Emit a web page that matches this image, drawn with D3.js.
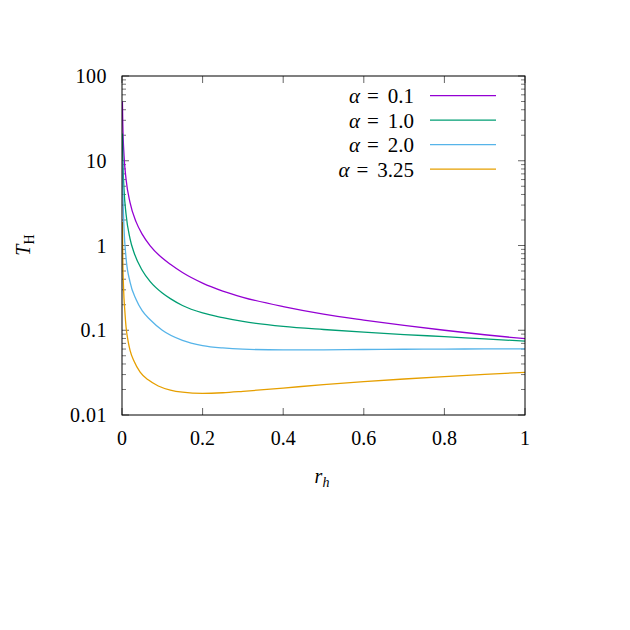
<!DOCTYPE html>
<html><head><meta charset="utf-8">
<script src="https://cdn.jsdelivr.net/npm/d3@7"></script>
<style>
body{margin:0;background:#fff;}
</style></head>
<body><svg id="c" width="630" height="630" font-family="'Liberation Serif', 'DejaVu Serif', 'Times New Roman', serif"></svg>
<script>
// ---- data ----
const seriesLabels = ["0.1", "1.0", "2.0", "3.25"];
const seriesColors = ["#9400D3", "#009E73", "#56B4E9", "#E69F00"];
const rh_a01 = [0.001, 0.002, 0.005, 0.01, 0.02, 0.035, 0.05, 0.07, 0.1, 0.12, 0.15, 0.2, 0.25, 0.3, 0.4, 0.5, 0.6, 0.7, 0.8, 0.9, 1.0];
const T_a01  = [50, 27, 11.6, 6.1, 3.2, 1.9, 1.36, 0.99, 0.71, 0.6, 0.48, 0.36, 0.29, 0.245, 0.19, 0.155, 0.132, 0.114, 0.1, 0.0885, 0.0795];
const rh_a1  = [0.001, 0.002, 0.005, 0.01, 0.02, 0.03, 0.05, 0.07, 0.1, 0.12, 0.15, 0.2, 0.25, 0.3, 0.4, 0.5, 0.6, 0.7, 0.8, 0.9, 1.0];
const T_a1   = [21, 11, 4.6, 2.35, 1.2, 0.82, 0.51, 0.375, 0.275, 0.236, 0.196, 0.16, 0.141, 0.127, 0.111, 0.102, 0.095, 0.089, 0.084, 0.079, 0.0745];
const rh_a2  = [0.001, 0.002, 0.005, 0.01, 0.02, 0.035, 0.05, 0.07, 0.1, 0.15, 0.2, 0.25, 0.3, 0.4, 0.5, 0.6, 0.7, 0.8, 0.9, 1.0];
const T_a2   = [10, 4.8, 1.6, 0.72, 0.37, 0.23, 0.17, 0.133, 0.1, 0.076, 0.066, 0.0618, 0.0598, 0.0587, 0.0588, 0.0593, 0.0597, 0.06, 0.0602, 0.0604];
const rh_a325 = [0.001, 0.002, 0.004, 0.007, 0.01, 0.015, 0.02, 0.03, 0.045, 0.065, 0.09, 0.12, 0.15, 0.2, 0.25, 0.3, 0.4, 0.5, 0.6, 0.7, 0.8, 0.9, 1.0];
const T_a325  = [1.9, 0.7, 0.3, 0.17, 0.11, 0.075, 0.058, 0.043, 0.032, 0.026, 0.022, 0.0197, 0.0186, 0.018, 0.0183, 0.019, 0.0208, 0.0228, 0.0247, 0.0266, 0.0284, 0.0302, 0.0319];
const xTicks = [0, 0.2, 0.4, 0.6, 0.8, 1];
const xTickLabels = ["0", "0.2", "0.4", "0.6", "0.8", "1"];
const yTicks = [0.01, 0.1, 1, 10, 100];
const yTickLabels = ["0.01", "0.1", "1", "10", "100"];

const series = [
  {rh: rh_a01, T: T_a01},
  {rh: rh_a1, T: T_a1},
  {rh: rh_a2, T: T_a2},
  {rh: rh_a325, T: T_a325}
];

const L = 122, R = 525, Tp = 76, B = 415;
const FF = "'Liberation Serif', 'DejaVu Serif', serif";
const svg = d3.select("#c");
const x = d3.scaleLinear().domain([0, 1]).range([L, R]);
const y = d3.scaleLog().domain([0.01, 100]).range([B, Tp]);

const g = svg.append("g");
const minor = [];
for (let d = 0.01; d < 100; d *= 10) for (let k = 2; k <= 9; k++) minor.push(d * k);
const tickCol = "#555";
minor.forEach(v => {
  [[L, L + 4], [R, R - 4]].forEach(([a, b]) =>
    g.append("line").attr("x1", a).attr("x2", b).attr("y1", y(v)).attr("y2", y(v))
      .attr("stroke", tickCol).attr("stroke-width", 0.8));
});
yTicks.forEach(v => {
  [[L, L + 7], [R, R - 7]].forEach(([a, b]) =>
    g.append("line").attr("x1", a).attr("x2", b).attr("y1", y(v)).attr("y2", y(v))
      .attr("stroke", tickCol).attr("stroke-width", 0.9));
});
xTicks.forEach(v => {
  [[B, B - 7], [Tp, Tp + 7]].forEach(([a, b]) =>
    g.append("line").attr("x1", x(v)).attr("x2", x(v)).attr("y1", a).attr("y2", b)
      .attr("stroke", tickCol).attr("stroke-width", 0.9));
});

yTicks.forEach((v, i) => {
  g.append("text").attr("x", 107).attr("y", y(v)).attr("dy", "0.35em")
    .attr("font-family", FF).attr("letter-spacing", 0.5)
    .attr("text-anchor", "end").attr("font-size", 20).text(yTickLabels[i]);
});
xTicks.forEach((v, i) => {
  g.append("text").attr("x", x(v)).attr("y", 445)
    .attr("font-family", FF)
    .attr("text-anchor", "middle").attr("font-size", 20).text(xTickLabels[i]);
});

const line = d3.line().x(d => x(d[0])).y(d => y(d[1])).curve(d3.curveMonotoneX);
svg.append("clipPath").attr("id", "clp").append("rect")
  .attr("x", L).attr("y", Tp).attr("width", R - L).attr("height", B - Tp);
series.forEach((s, i) => {
  const pts = s.rh.map((r, j) => [r, s.T[j]]);
  svg.append("path").attr("d", line(pts)).attr("fill", "none")
    .attr("stroke", seriesColors[i]).attr("stroke-width", 1.3)
    .attr("clip-path", "url(#clp)");
});

svg.append("rect").attr("x", L).attr("y", Tp).attr("width", R - L).attr("height", B - Tp)
  .attr("fill", "none").attr("stroke", "#000").attr("stroke-width", 1);

// legend: number, "=", alpha placed separately to mimic math spacing
seriesLabels.forEach((lab, i) => {
  const yy = 95.7 + i * 24.5;
  const num = svg.append("text").attr("x", 414).attr("y", yy).attr("dy", "0.35em")
    .attr("font-family", FF).attr("text-anchor", "end").attr("font-size", 21).text(lab);
  const nw = num.node().getComputedTextLength();
  const eqX = 414 - nw - 9;
  const eq = svg.append("text").attr("x", eqX).attr("y", yy).attr("dy", "0.35em")
    .attr("font-family", FF).attr("text-anchor", "end").attr("font-size", 21).text("=");
  const ew = eq.node().getComputedTextLength();
  svg.append("text").attr("x", eqX - ew - 7).attr("y", yy).attr("dy", "0.35em")
    .attr("font-family", FF).attr("font-style", "italic").attr("text-anchor", "end")
    .attr("font-size", 21).text("α");
  svg.append("line").attr("x1", 430).attr("x2", 496).attr("y1", yy).attr("y2", yy)
    .attr("stroke", seriesColors[i]).attr("stroke-width", 1.3);
});

const xl = svg.append("text").attr("x", 322).attr("y", 483).attr("text-anchor", "middle")
  .attr("font-family", FF).attr("font-size", 20);
xl.append("tspan").attr("font-style", "italic").text("r");
xl.append("tspan").attr("font-style", "italic").attr("font-size", 14).attr("dy", 4).text("h");

const yl = svg.append("text").attr("transform", "translate(30,245) rotate(-90)")
  .attr("font-family", FF).attr("text-anchor", "middle").attr("font-size", 20);
yl.append("tspan").attr("font-style", "italic").text("T");
yl.append("tspan").attr("font-size", 14).attr("dy", 4).text("H");
</script></body></html>
